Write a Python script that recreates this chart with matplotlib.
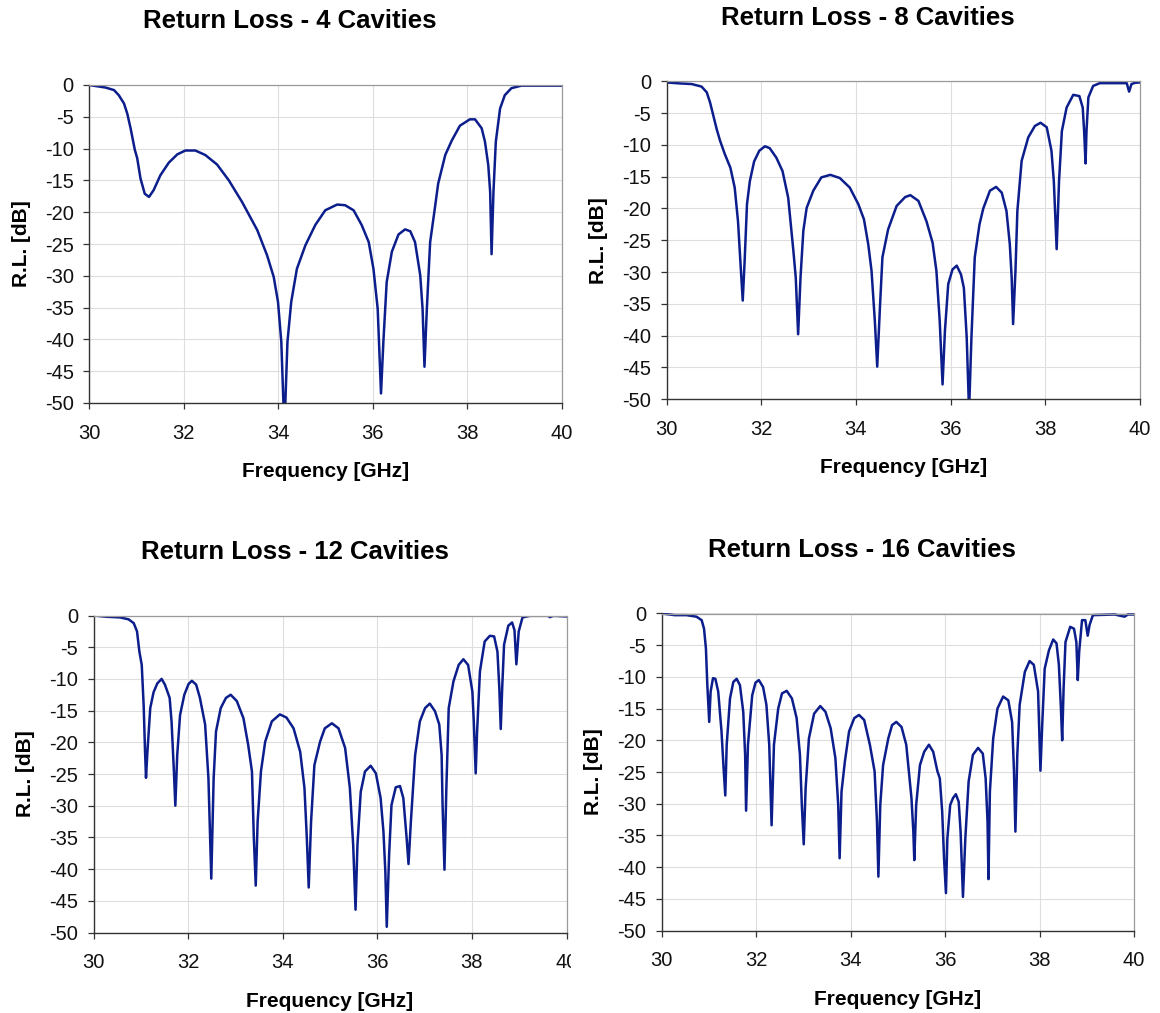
import matplotlib
matplotlib.use("Agg")
import matplotlib.pyplot as plt
from matplotlib.transforms import Bbox, TransformedBbox

plt.rcParams['font.family'] = ['Liberation Sans', 'DejaVu Sans']
plt.rcParams['axes.unicode_minus'] = False

# ---- measured return loss, frequency in GHz, R.L. in dB ----
f4 = [30.0, 30.14, 30.35, 30.53, 30.63, 30.74, 30.81, 30.88, 30.97, 31.02, 31.09, 31.18,
      31.27, 31.37, 31.51, 31.69, 31.87, 32.04, 32.25, 32.46, 32.71, 32.96, 33.24, 33.56,
      33.77, 33.91, 34.0, 34.07, 34.115, 34.135, 34.155, 34.2, 34.28, 34.40, 34.58, 34.79,
      35.0, 35.25, 35.42, 35.6, 35.77, 35.92, 36.02, 36.11, 36.18, 36.23, 36.30, 36.41,
      36.55, 36.69, 36.80, 36.90, 37.01, 37.06, 37.1, 37.15, 37.22, 37.31, 37.39, 37.54,
      37.68, 37.85, 38.06, 38.17, 38.31, 38.38, 38.45, 38.49, 38.52, 38.56, 38.61, 38.70,
      38.80, 38.94, 39.15, 40.0]
rl4 = [0.0, -0.16, -0.4, -0.8, -1.6, -2.9, -4.5, -6.8, -10.2, -11.5, -14.7, -17.1,
       -17.6, -16.5, -14.2, -12.2, -10.9, -10.3, -10.3, -11.0, -12.5, -15.0, -18.4, -22.8,
       -26.8, -30.2, -34.1, -40.4, -50.0, -54.0, -50.0, -40.4, -34.1, -28.9, -25.2, -22.0,
       -19.7, -18.8, -18.9, -19.7, -22.0, -24.7, -28.9, -35.2, -48.5, -40.4, -31.0, -26.2,
       -23.5, -22.7, -23.0, -24.7, -29.9, -35.2, -44.3, -35.2, -24.7, -19.9, -15.5, -11.0,
       -8.7, -6.4, -5.4, -5.4, -6.8, -8.9, -12.6, -16.8, -26.6, -16.8, -8.9, -3.7,
       -1.6, -0.5, -0.1, -0.1]

f8 = [30.0, 30.28, 30.53, 30.74, 30.85, 30.92, 30.99, 31.06, 31.13, 31.23, 31.35, 31.44,
      31.51, 31.56, 31.61, 31.65, 31.70, 31.76, 31.85, 31.96, 32.08, 32.18, 32.32, 32.45,
      32.57, 32.68, 32.73, 32.78, 32.83, 32.89, 32.96, 33.10, 33.27, 33.46, 33.66, 33.87,
      34.05, 34.17, 34.26, 34.33, 34.40, 34.45, 34.51, 34.56, 34.68, 34.86, 35.04, 35.15,
      35.32, 35.49, 35.62, 35.70, 35.77, 35.83, 35.88, 35.95, 36.04, 36.13, 36.22, 36.28,
      36.34, 36.39, 36.44, 36.51, 36.61, 36.69, 36.83, 36.96, 37.08, 37.18, 37.25, 37.29,
      37.32, 37.37, 37.41, 37.50, 37.64, 37.78, 37.90, 38.03, 38.13, 38.18, 38.24, 38.29,
      38.35, 38.45, 38.59, 38.72, 38.79, 38.82, 38.85, 38.87, 38.91, 39.01, 39.15, 39.72,
      39.77, 39.82, 39.9, 40.0]
rl8 = [-0.15, -0.3, -0.4, -0.8, -1.7, -3.3, -5.4, -7.5, -9.3, -11.4, -13.6, -16.7,
       -22.0, -28.3, -34.5, -28.3, -19.3, -15.7, -12.6, -10.9, -10.2, -10.5, -12.0, -14.1,
       -18.3, -26.7, -30.9, -39.8, -30.9, -23.5, -19.9, -17.2, -15.1, -14.7, -15.2, -16.7,
       -19.3, -21.7, -25.6, -29.8, -37.7, -44.9, -35.2, -27.7, -23.3, -19.6, -18.2, -17.9,
       -18.8, -22.0, -25.4, -29.8, -37.7, -47.7, -39.3, -31.9, -29.6, -29.0, -30.4, -32.5,
       -40.3, -52.0, -40.3, -27.7, -22.5, -20.0, -17.2, -16.6, -17.5, -20.4, -25.6, -30.9,
       -38.2, -29.8, -20.4, -12.5, -8.8, -7.0, -6.5, -7.2, -10.9, -15.7, -26.4, -15.7,
       -7.8, -4.1, -2.1, -2.3, -4.1, -7.8, -12.9, -7.8, -2.5, -0.7, -0.26, -0.26,
       -1.6, -0.4, -0.2, -0.15]

f12 = [30.0, 30.28, 30.56, 30.74, 30.85, 30.92, 30.97, 31.02, 31.06, 31.09, 31.11, 31.14,
       31.20, 31.27, 31.35, 31.44, 31.51, 31.61, 31.65, 31.70, 31.73, 31.77, 31.83, 31.92,
       32.01, 32.08, 32.17, 32.25, 32.36, 32.43, 32.49, 32.54, 32.59, 32.69, 32.80, 32.90,
       33.03, 33.17, 33.27, 33.35, 33.39, 33.43, 33.47, 33.54, 33.63, 33.77, 33.94, 34.08,
       34.23, 34.37, 34.46, 34.51, 34.55, 34.60, 34.67, 34.79, 34.89, 35.04, 35.18, 35.32,
       35.42, 35.49, 35.54, 35.58, 35.65, 35.74, 35.86, 35.97, 36.07, 36.13, 36.17, 36.20,
       36.25, 36.30, 36.39, 36.48, 36.55, 36.62, 36.66, 36.71, 36.80, 36.90, 37.01, 37.11,
       37.22, 37.31, 37.36, 37.38, 37.42, 37.46, 37.51, 37.61, 37.72, 37.82, 37.92, 38.01,
       38.04, 38.08, 38.11, 38.17, 38.27, 38.38, 38.47, 38.54, 38.58, 38.61, 38.64, 38.68,
       38.77, 38.85, 38.90, 38.94, 38.99, 39.07, 39.23, 39.61, 39.65, 39.72, 40.0]
rl12 = [0.0, -0.2, -0.3, -0.6, -1.2, -2.5, -5.7, -7.8, -14.1, -21.5, -25.6, -21.5,
        -14.6, -12.1, -10.7, -10.0, -10.9, -13.0, -16.7, -24.6, -30.0, -22.0, -15.7, -12.5,
        -10.8, -10.3, -10.9, -13.0, -17.2, -25.7, -41.5, -25.7, -18.3, -14.6, -13.0, -12.5,
        -13.5, -16.2, -20.4, -24.6, -35.1, -42.6, -32.5, -24.6, -19.9, -16.7, -15.6, -16.1,
        -17.8, -21.5, -27.2, -35.1, -42.9, -32.5, -23.6, -19.9, -17.8, -17.0, -17.8, -20.9,
        -27.2, -36.2, -46.4, -36.2, -27.8, -24.6, -23.7, -24.9, -28.8, -34.1, -40.4, -49.1,
        -37.7, -29.9, -27.1, -26.9, -28.8, -35.1, -39.2, -32.5, -22.0, -16.7, -14.6, -13.9,
        -15.1, -17.2, -22.0, -29.9, -40.1, -27.2, -14.6, -10.4, -7.8, -6.9, -7.8, -12.0,
        -16.7, -24.9, -18.3, -8.8, -4.1, -3.2, -3.3, -5.7, -11.5, -17.9, -11.5, -4.6,
        -1.6, -1.1, -2.3, -7.7, -2.5, -0.3, -0.05, -0.05, -0.26, -0.05, -0.15]

f16 = [30.0, 30.28, 30.53, 30.74, 30.85, 30.90, 30.94, 30.97, 31.01, 31.04, 31.09, 31.14,
       31.20, 31.27, 31.31, 31.35, 31.38, 31.45, 31.52, 31.59, 31.66, 31.73, 31.77, 31.79,
       31.83, 31.92, 31.99, 32.06, 32.15, 32.22, 32.28, 32.33, 32.38, 32.47, 32.55, 32.65,
       32.76, 32.86, 32.93, 32.97, 33.01, 33.05, 33.12, 33.23, 33.36, 33.47, 33.58, 33.68,
       33.74, 33.77, 33.81, 33.88, 33.97, 34.08, 34.18, 34.29, 34.41, 34.51, 34.56, 34.59,
       34.63, 34.69, 34.80, 34.88, 34.97, 35.08, 35.18, 35.29, 35.33, 35.35, 35.39, 35.47,
       35.56, 35.66, 35.75, 35.84, 35.89, 35.94, 35.98, 36.02, 36.05, 36.11, 36.17, 36.23,
       36.29, 36.33, 36.38, 36.43, 36.50, 36.59, 36.70, 36.80, 36.86, 36.90, 36.92, 36.95,
       37.02, 37.11, 37.23, 37.34, 37.42, 37.46, 37.49, 37.53, 37.58, 37.69, 37.79, 37.88,
       37.97, 38.0, 38.02, 38.06, 38.11, 38.20, 38.29, 38.36, 38.41, 38.45, 38.48, 38.51,
       38.55, 38.65, 38.73, 38.78, 38.81, 38.84, 38.90, 38.97, 39.02, 39.06, 39.13, 39.59,
       39.80, 39.87, 40.0]
rl16 = [0.0, -0.26, -0.26, -0.5, -1.05, -2.4, -5.5, -11.3, -17.1, -12.3, -10.2, -10.3,
        -12.3, -18.6, -23.9, -28.7, -20.7, -13.4, -10.8, -10.3, -11.3, -15.5, -22.3, -31.1,
        -20.7, -12.9, -10.9, -10.5, -11.6, -14.4, -20.7, -33.4, -20.7, -15.0, -12.6, -12.2,
        -13.4, -16.5, -22.3, -30.2, -36.4, -27.6, -19.7, -15.8, -14.6, -15.5, -18.1, -22.8,
        -30.2, -38.6, -28.1, -23.4, -18.6, -16.5, -16.0, -16.8, -20.7, -24.9, -32.8, -41.5,
        -30.2, -23.9, -19.7, -17.6, -17.1, -17.9, -20.7, -29.1, -34.4, -38.9, -30.2, -23.9,
        -21.8, -20.7, -21.8, -24.9, -26.0, -31.2, -38.6, -44.1, -35.5, -30.2, -29.1, -28.5,
        -29.7, -34.4, -44.7, -35.5, -26.5, -22.3, -21.2, -22.1, -26.0, -32.8, -41.9, -28.1,
        -19.7, -15.0, -13.1, -13.7, -17.1, -24.9, -34.4, -22.3, -14.4, -9.2, -7.5, -8.1,
        -12.3, -19.7, -24.8, -17.1, -8.7, -5.8, -4.1, -4.7, -8.1, -14.4, -20.0, -11.8,
        -4.5, -2.1, -2.4, -4.5, -10.5, -6.0, -1.05, -1.05, -3.5, -1.8, -0.26, -0.16,
        -0.5, -0.16, -0.16]

titles = ["Return Loss - 4 Cavities", "Return Loss - 8 Cavities",
          "Return Loss - 12 Cavities", "Return Loss - 16 Cavities"]
x_ticks = [30, 32, 34, 36, 38, 40]
y_ticks = [0, -5, -10, -15, -20, -25, -30, -35, -40, -45, -50]
x_label = "Frequency [GHz]"
y_label = "R.L. [dB]"

W, H = 1160, 1013
fig = plt.figure(figsize=(W / 100, H / 100), dpi=100)


def px_axes(l, t, r, b):
    return [l / W, 1 - b / H, (r - l) / W, (b - t) / H]


# axes rectangles (left, top, right, bottom) in pixels, plus title centres
panels = [
    (px_axes(89, 85, 561.5, 403), (290, 21), f4, rl4),
    (px_axes(666.5, 81.5, 1140, 399), (868, 18), f8, rl8),
    (px_axes(93.5, 615.5, 566.5, 932.5), (295, 552), f12, rl12),
    (px_axes(661.5, 613.5, 1134, 930.5), (862, 550), f16, rl16),
]

line_color = "#0c1d8c"
axes_list = []
for (rect, (tx, ty), fx, ry), title in zip(panels, titles):
    ax = fig.add_axes(rect)
    ax.plot(fx, ry, color=line_color, lw=1.8, solid_joinstyle="round")
    ax.set_xlim(30, 40)
    ax.set_ylim(-50, 0)
    ax.set_xticks(x_ticks)
    ax.set_yticks(y_ticks)
    ax.grid(True, color="#dedede", lw=0.8)
    ax.set_axisbelow(True)
    for side in ("top", "right"):
        ax.spines[side].set_color("#9a9a9a")
        ax.spines[side].set_linewidth(0.9)
    for side in ("left", "bottom"):
        ax.spines[side].set_color("#333333")
        ax.spines[side].set_linewidth(1.0)
    ax.tick_params(axis="both", direction="out", length=4.5, width=0.9,
                   color="#333333", labelsize=14.5, labelcolor="#111111")
    ax.tick_params(axis="x", pad=10.5)
    ax.tick_params(axis="y", pad=6.5)
    ax.set_xlabel(x_label, fontsize=15, fontweight="bold", labelpad=14)
    ax.set_ylabel(y_label, fontsize=15, fontweight="bold", labelpad=10)
    fig.text(tx / W, 1 - ty / H, title, ha="center", va="center",
             fontsize=18.5, fontweight="bold")
    axes_list.append(ax)

# the right-most tick label of the lower-left chart is cut by its chart frame
fig.canvas.draw()
ax12 = axes_list[2]
clip = TransformedBbox(Bbox([[0, 0], [571 / W, 1]]), fig.transFigure)
for lab in ax12.get_xticklabels():
    lab.set_clip_on(True)
    lab.set_clip_box(clip)

fig.savefig("out.png", dpi=100, facecolor="white")
